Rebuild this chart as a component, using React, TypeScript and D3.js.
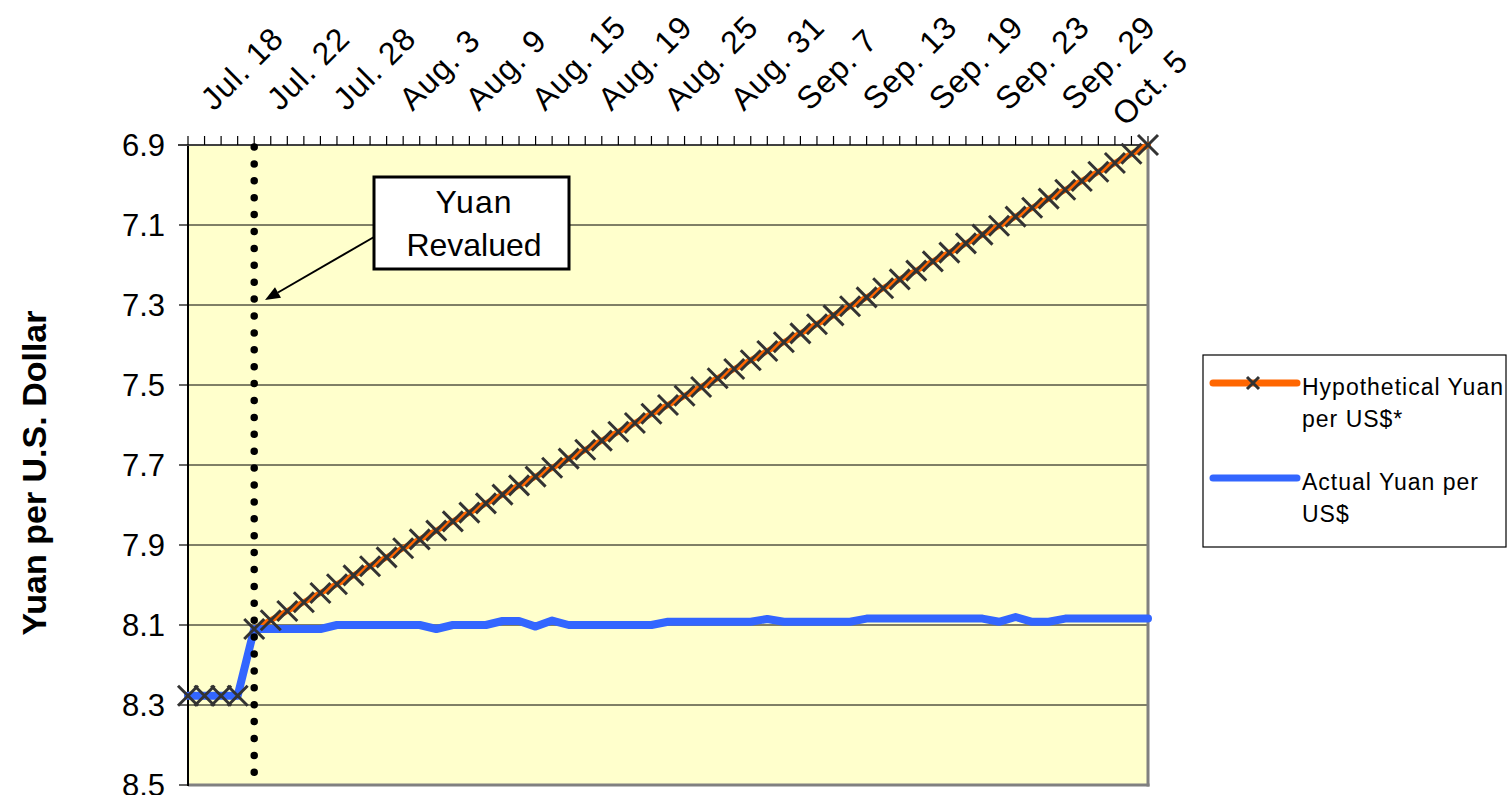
import { useEffect, useRef } from 'react';
import * as d3 from 'd3';

// trading days shown on the category axis
const dates = [
  'Jul 18', 'Jul 19', 'Jul 20', 'Jul 21', 'Jul 22', 'Jul 25', 'Jul 26', 'Jul 27', 'Jul 28', 'Jul 29',
  'Aug 1', 'Aug 2', 'Aug 3', 'Aug 4', 'Aug 5', 'Aug 8', 'Aug 9', 'Aug 10', 'Aug 11', 'Aug 12',
  'Aug 15', 'Aug 16', 'Aug 17', 'Aug 18', 'Aug 19', 'Aug 22', 'Aug 23', 'Aug 24', 'Aug 25', 'Aug 26',
  'Aug 29', 'Aug 30', 'Aug 31', 'Sep 1', 'Sep 2', 'Sep 6', 'Sep 7', 'Sep 8', 'Sep 9', 'Sep 12',
  'Sep 13', 'Sep 14', 'Sep 15', 'Sep 16', 'Sep 19', 'Sep 20', 'Sep 21', 'Sep 22', 'Sep 23', 'Sep 26',
  'Sep 27', 'Sep 28', 'Sep 29', 'Sep 30', 'Oct 3', 'Oct 4', 'Oct 5', 'Oct 6', 'Oct 7',
];

const tickLabels = [
  'Jul. 18', 'Jul. 22', 'Jul. 28', 'Aug. 3', 'Aug. 9', 'Aug. 15', 'Aug. 19', 'Aug. 25',
  'Aug. 31', 'Sep. 7', 'Sep. 13', 'Sep. 19', 'Sep. 23', 'Sep. 29', 'Oct. 5',
];

const hypotheticalYuan = [
  8.277, 8.277, 8.277, 8.277, 8.110, 8.088, 8.065, 8.043, 8.020, 7.998,
  7.976, 7.953, 7.931, 7.908, 7.886, 7.864, 7.841, 7.819, 7.796, 7.774,
  7.751, 7.729, 7.707, 7.684, 7.662, 7.639, 7.617, 7.595, 7.572, 7.550,
  7.527, 7.505, 7.483, 7.460, 7.438, 7.415, 7.393, 7.371, 7.348, 7.326,
  7.303, 7.281, 7.258, 7.236, 7.214, 7.191, 7.169, 7.146, 7.124, 7.102,
  7.079, 7.057, 7.034, 7.012, 6.990, 6.967, 6.945, 6.922, 6.900,
];

const actualYuan = [
  8.277, 8.277, 8.277, 8.277, 8.110, 8.110, 8.110, 8.110, 8.110, 8.100,
  8.100, 8.100, 8.100, 8.100, 8.100, 8.110, 8.100, 8.100, 8.100, 8.090,
  8.090, 8.104, 8.089, 8.100, 8.100, 8.100, 8.100, 8.100, 8.100, 8.092,
  8.092, 8.092, 8.092, 8.092, 8.092, 8.085, 8.092, 8.092, 8.092, 8.092,
  8.092, 8.084, 8.084, 8.084, 8.084, 8.084, 8.084, 8.084, 8.084, 8.092,
  8.080, 8.092, 8.092, 8.084, 8.084, 8.084, 8.084, 8.084, 8.084,
];

const yTicks = [6.9, 7.1, 7.3, 7.5, 7.7, 7.9, 8.1, 8.3, 8.5];
const revaluationDate = 'Jul 22';

const FONT = '"Liberation Sans", Arial, sans-serif';

export default function App() {
  const svgRef = useRef<SVGSVGElement>(null);

  useEffect(() => {
    const svg = d3.select(svgRef.current);
    svg.selectAll('*').remove();

    const left = 188, right = 1148, top = 145, bottom = 785;
    const labelMaxX = 1190; // chart area edge for the rotated labels

    const x = d3.scalePoint<string>().domain(dates).range([left, right]);
    const y = d3.scaleLinear().domain([6.9, 8.5]).range([top, bottom]);

    // plot area
    svg.append('rect')
      .attr('x', left).attr('y', top)
      .attr('width', right - left).attr('height', bottom - top)
      .attr('fill', '#FFFFCC');

    // gridlines
    svg.append('g')
      .selectAll('line')
      .data(yTicks.slice(1, -1))
      .enter().append('line')
      .attr('x1', left).attr('x2', right)
      .attr('y1', d => y(d)).attr('y2', d => y(d))
      .attr('stroke', '#000').attr('stroke-width', 1);

    // plot border (right / bottom in grey)
    svg.append('line')
      .attr('x1', right).attr('x2', right).attr('y1', top).attr('y2', bottom + 1.5)
      .attr('stroke', '#808080').attr('stroke-width', 3);
    svg.append('line')
      .attr('x1', left).attr('x2', right + 1.5).attr('y1', bottom).attr('y2', bottom)
      .attr('stroke', '#808080').attr('stroke-width', 3);

    // value axis (left)
    svg.append('line')
      .attr('x1', left).attr('x2', left).attr('y1', top).attr('y2', bottom + 1)
      .attr('stroke', '#000').attr('stroke-width', 2);
    svg.append('g')
      .selectAll('line')
      .data(yTicks)
      .enter().append('line')
      .attr('x1', left - 9).attr('x2', left)
      .attr('y1', d => y(d)).attr('y2', d => y(d))
      .attr('stroke', '#000').attr('stroke-width', 1.2);
    svg.append('g')
      .selectAll('text')
      .data(yTicks)
      .enter().append('text')
      .attr('x', left - 23)
      .attr('y', d => y(d))
      .attr('dy', '0.36em')
      .attr('text-anchor', 'end')
      .attr('font-family', FONT)
      .attr('font-size', 31)
      .text(d => d.toFixed(1));

    svg.append('text')
      .attr('transform', `translate(46,${(top + bottom) / 2 + 8}) rotate(-90)`)
      .attr('text-anchor', 'middle')
      .attr('font-family', FONT)
      .attr('font-size', 34)
      .attr('font-weight', 'bold')
      .text('Yuan per U.S. Dollar');

    // category axis (top)
    svg.append('line')
      .attr('x1', left - 10).attr('x2', right).attr('y1', top).attr('y2', top)
      .attr('stroke', '#404040').attr('stroke-width', 2);
    svg.append('g')
      .selectAll('line')
      .data(dates)
      .enter().append('line')
      .attr('x1', d => x(d)!).attr('x2', d => x(d)!)
      .attr('y1', top - 9).attr('y2', top)
      .attr('stroke', '#000').attr('stroke-width', 1.2);

    const c45 = Math.SQRT1_2;
    svg.append('g')
      .selectAll('text')
      .data(tickLabels)
      .enter().append('text')
      .attr('font-family', FONT)
      .attr('font-size', 32)
      .attr('letter-spacing', 1)
      .text(d => d)
      .each(function (d) {
        const el = this as SVGTextElement;
        let ax = x(d.replace('. ', ' '))! + 26;
        let ay = top - 33;
        const len = el.getComputedTextLength();
        // pull a label back along its baseline if it would run past the chart edge
        const over = ax + len * c45 - labelMaxX;
        if (over > 0) {
          ax -= over;
          ay += over;
        }
        d3.select(el).attr('transform', `translate(${ax},${ay}) rotate(-45)`);
      });

    // series
    const line = d3.line<number>()
      .x((_, i) => x(dates[i])!)
      .y(d => y(d));

    svg.append('path')
      .datum(hypotheticalYuan)
      .attr('d', line)
      .attr('fill', 'none')
      .attr('stroke', '#FF6600')
      .attr('stroke-width', 6)
      .attr('stroke-linejoin', 'round')
      .attr('stroke-linecap', 'round');

    svg.append('path')
      .datum(actualYuan)
      .attr('d', line)
      .attr('fill', 'none')
      .attr('stroke', '#3366FF')
      .attr('stroke-width', 8)
      .attr('stroke-linejoin', 'round')
      .attr('stroke-linecap', 'round');

    svg.append('g')
      .selectAll('path')
      .data(hypotheticalYuan)
      .enter().append('path')
      .attr('transform', (d, i) => `translate(${x(dates[i])},${y(d)})`)
      .attr('d', 'M-10,-10L10,10M-10,10L10,-10')
      .attr('stroke', '#333')
      .attr('stroke-width', 3)
      .attr('fill', 'none');

    // revaluation marker
    const rx = x(revaluationDate)!;
    svg.append('line')
      .attr('x1', rx).attr('x2', rx)
      .attr('y1', top + 2).attr('y2', bottom)
      .attr('stroke', '#000')
      .attr('stroke-width', 7.5)
      .attr('stroke-linecap', 'round')
      .attr('stroke-dasharray', '0 16.9');

    // annotation
    const tip: [number, number] = [265, 300];
    const from: [number, number] = [374, 237];
    const ang = Math.atan2(tip[1] - from[1], tip[0] - from[0]);
    const len = 15, half = 6;
    const bx = tip[0] - len * Math.cos(ang), by = tip[1] - len * Math.sin(ang);
    svg.append('line')
      .attr('x1', from[0]).attr('y1', from[1]).attr('x2', bx).attr('y2', by)
      .attr('stroke', '#000').attr('stroke-width', 2);
    svg.append('path')
      .attr('d', `M${tip[0]},${tip[1]}L${bx + half * Math.sin(ang)},${by - half * Math.cos(ang)}L${bx - half * Math.sin(ang)},${by + half * Math.cos(ang)}Z`)
      .attr('fill', '#000');

    svg.append('rect')
      .attr('x', 374).attr('y', 177).attr('width', 195).attr('height', 92)
      .attr('fill', '#fff').attr('stroke', '#000').attr('stroke-width', 3);
    svg.append('text')
      .attr('x', 474).attr('y', 213)
      .attr('text-anchor', 'middle')
      .attr('font-family', FONT).attr('font-size', 32)
      .attr('letter-spacing', 1)
      .text('Yuan');
    svg.append('text')
      .attr('x', 474).attr('y', 256)
      .attr('text-anchor', 'middle')
      .attr('font-family', FONT).attr('font-size', 32)
      .text('Revalued');

    // legend
    const legend = svg.append('g');
    legend.append('rect')
      .attr('x', 1203).attr('y', 355).attr('width', 303).attr('height', 192)
      .attr('fill', '#fff').attr('stroke', '#000').attr('stroke-width', 1.2);

    const legendItems = [
      { color: '#FF6600', marker: true, lines: ['Hypothetical Yuan', 'per US$*'], ly: 383 },
      { color: '#3366FF', marker: false, lines: ['Actual Yuan per', 'US$'], ly: 478 },
    ];
    legendItems.forEach(item => {
      legend.append('line')
        .attr('x1', 1213).attr('x2', 1297)
        .attr('y1', item.ly).attr('y2', item.ly)
        .attr('stroke', item.color).attr('stroke-width', 7)
        .attr('stroke-linecap', 'round');
      if (item.marker) {
        legend.append('path')
          .attr('transform', `translate(1253,${item.ly})`)
          .attr('d', 'M-6,-6L6,6M-6,6L6,-6')
          .attr('stroke', '#333').attr('stroke-width', 3);
      }
      item.lines.forEach((t, k) => {
        legend.append('text')
          .attr('x', 1302).attr('y', item.ly + 12 + k * 32)
          .attr('font-family', FONT).attr('font-size', 23)
          .attr('letter-spacing', 1)
          .text(t);
      });
    });
  }, []);

  return (
    <svg
      ref={svgRef}
      width={1509}
      height={795}
      style={{ position: 'absolute', left: 0, top: 0, background: '#fff' }}
    />
  );
}
